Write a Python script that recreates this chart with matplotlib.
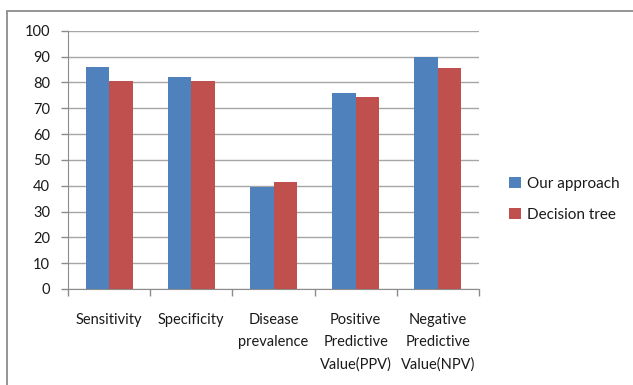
import matplotlib
matplotlib.use("Agg")
import matplotlib.pyplot as plt
from matplotlib.patches import Rectangle
import numpy as np

categories = ["Sensitivity", "Specificity", "Disease\nprevalence",
              "Positive\nPredictive\nValue(PPV)", "Negative\nPredictive\nValue(NPV)"]
our_approach = [85.8, 82.2, 39.4, 75.8, 89.9]
decision_tree = [80.4, 80.7, 41.3, 74.2, 85.6]
series_names = ["Our approach", "Decision tree"]
yticks = list(range(0, 101, 10))

plt.rcParams['font.family'] = ['Lato', 'DejaVu Sans']

W, H = 633, 385
fig = plt.figure(figsize=(W / 100, H / 100), dpi=100)

# outer frame (continues past right and bottom edges)
fig.patches.append(Rectangle((7 / W, -0.5), 2, (H - 11) / H + 0.5, transform=fig.transFigure,
                             fill=False, edgecolor='#8c8c8c', linewidth=1.3))

left, right, top, bottom = 68, 479, 30.7, 289
ax = fig.add_axes([left / W, 1 - bottom / H, (right - left) / W, (bottom - top) / H])

x = np.arange(len(categories))
w = 1 / 3.5
ax.bar(x - w / 2, our_approach, w, color='#4F81BD', label=series_names[0], zorder=3)
ax.bar(x + w / 2, decision_tree, w, color='#C0504D', label=series_names[1], zorder=3)

ax.set_xlim(-0.5, len(categories) - 0.5)
ax.set_ylim(0, 100)
ax.set_yticks(yticks)
ax.yaxis.grid(True, color='#a6a6a6', linewidth=1.0, zorder=0)
ax.set_xticks(np.arange(len(categories) + 1) - 0.5)
ax.set_xticklabels([])
ax.set_xticks(x, minor=True)
ax.set_xticklabels(categories, minor=True, fontsize=10.5, color='#1a1a1a', linespacing=1.75)
ax.tick_params(axis='x', which='minor', length=0, pad=17)
ax.tick_params(axis='x', which='major', length=5, color='#8c8c8c', width=1)
ax.tick_params(axis='y', length=5, color='#8c8c8c', width=1, pad=8,
               labelsize=10.5, labelcolor='#1a1a1a')
for s in ['top', 'right']:
    ax.spines[s].set_visible(False)
for s in ['left', 'bottom']:
    ax.spines[s].set_color('#8c8c8c')

leg = fig.legend(loc='center left', bbox_to_anchor=(503 / W, 1 - 199.5 / H), frameon=False,
                 fontsize=11, handlelength=0.75, handleheight=0.75, handletextpad=0.4,
                 labelspacing=1.1, borderaxespad=0)
for t in leg.get_texts():
    t.set_color('#1a1a1a')

fig.savefig("out.png", dpi=100)
